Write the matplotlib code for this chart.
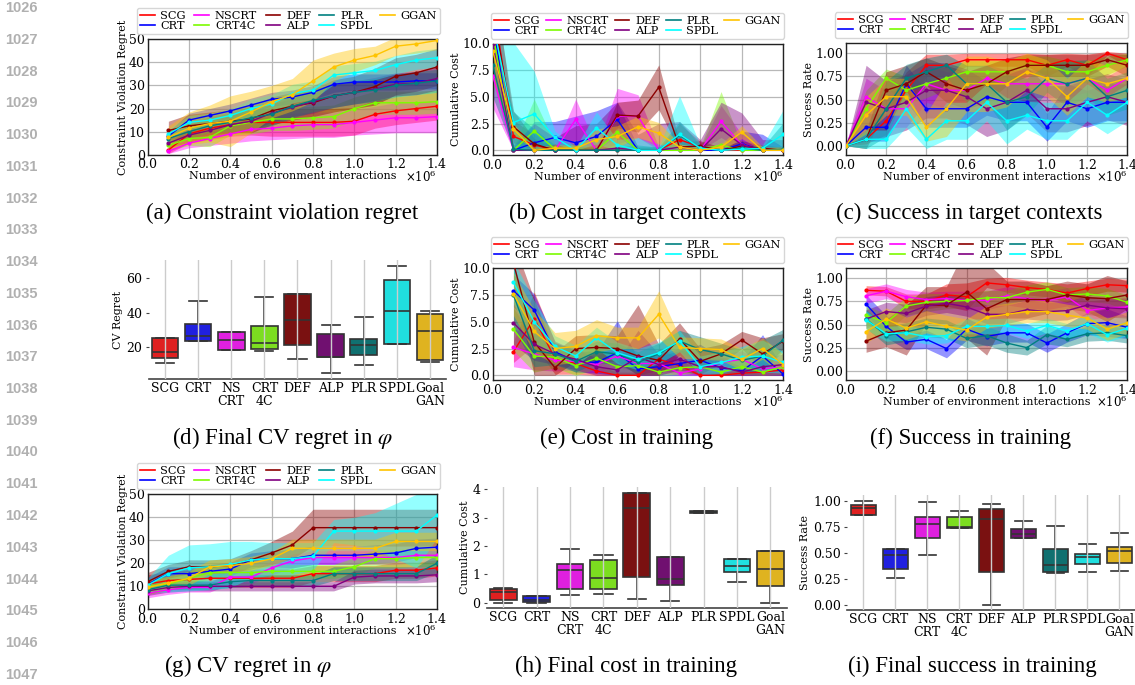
import colorsys
import matplotlib
matplotlib.use('Agg')
import matplotlib.pyplot as plt
import matplotlib.colors as mcolors
from matplotlib.lines import Line2D
import numpy as np

W, H = 1135, 685

methods = ['SCG', 'CRT', 'NSCRT', 'CRT4C', 'DEF', 'ALP', 'PLR', 'SPDL', 'GGAN']
box_labels = ['SCG', 'CRT', 'NS\nCRT', 'CRT\n4C', 'DEF', 'ALP', 'PLR', 'SPDL', 'Goal\nGAN']
colors = ['red', 'blue', 'magenta', 'lawngreen', 'darkred', 'purple', 'teal', 'cyan', '#ffc400']

steps14 = [100000, 200000, 300000, 400000, 500000, 600000, 700000,
           800000, 900000, 1000000, 1100000, 1200000, 1300000, 1400000]
steps15 = [0] + steps14

# (a) constraint violation regret, target contexts
a_mean = {
    'SCG':   [2, 9, 11.5, 13, 14, 14, 14, 14, 14, 14.5, 17.5, 19, 20, 21],
    'CRT':   [8, 15, 17, 19, 21.5, 24, 25, 27, 30.5, 31.5, 31.5, 31.5, 32, 32],
    'NSCRT': [1.5, 5, 7, 9, 11, 11.5, 12.5, 13, 13, 14, 15, 16, 16, 16.5],
    'CRT4C': [4, 7, 7.5, 12.5, 14, 15.5, 15.5, 16, 16.5, 20, 22.5, 22.5, 22.5, 23],
    'DEF':   [10.5, 12.5, 13.5, 14.5, 15.5, 19, 21, 22.5, 25.5, 27, 29.5, 34, 35.5, 38],
    'ALP':   [5, 8.5, 10.5, 13, 14.5, 18, 20.5, 23, 25.5, 27, 28.5, 30.5, 31, 33],
    'PLR':   [7, 10, 12.5, 14, 16, 17.5, 21, 23.5, 25.5, 27, 28, 30, 31, 32],
    'SPDL':  [9, 14, 15, 17, 20, 22, 26.5, 28, 34.5, 35.5, 36.5, 39, 41, 42],
    'GGAN':  [7.5, 11.5, 13.5, 14.5, 18.5, 23, 26, 32, 38, 41, 43, 47, 48, 49.5],
}
a_sd = {
    'SCG':   [1.5, 4, 5, 5, 5.5, 6, 6, 6, 6, 6, 6, 6, 6, 6],
    'CRT':   [2, 3, 3, 3, 3, 3, 3, 3, 3.5, 3.5, 3.5, 3.5, 3.5, 3.5],
    'NSCRT': [1, 2, 3, 4, 5, 5, 5.5, 5.5, 5.5, 5.5, 6, 6.5, 6.5, 7],
    'CRT4C': [2, 3, 4, 4, 5, 5, 5, 5, 5, 5, 5, 5, 5, 5],
    'DEF':   [4, 5, 5, 5, 6, 6, 6, 6, 7, 7, 8, 8, 8, 8],
    'ALP':   [2, 3, 3, 4, 4, 4, 4, 5, 5, 5, 5, 5, 5, 5],
    'PLR':   [2, 3, 3, 4, 5, 5, 5, 5, 5, 5, 5, 5, 5, 5],
    'SPDL':  [2, 3, 3, 3, 4, 4, 4, 4, 4, 4, 4, 4, 4, 4],
    'GGAN':  [5, 7, 8, 11, 9, 7, 7, 9, 6, 5, 4, 4, 4, 4],
}

# (b) cumulative cost, target contexts
b_mean = {
    'SCG':   [14, 1.3, 0.5, 0, 0, 0, 0, 0, 0, 1.0, 0.3, 0, 0, 0, 0],
    'CRT':   [12, 0, 0.7, 1.2, 0.7, 1.3, 2.9, 0, 0, 0, 0, 0, 0.6, 0, 0],
    'NSCRT': [7, 0, 0, 0, 2.9, 0, 3.2, 3.2, 0, 0, 0, 2.7, 0.5, 0, 0],
    'CRT4C': [11, 0, 1.8, 0.1, 0.1, 0, 1.7, 0, 0, 0, 0, 0.5, 0, 0, 0],
    'DEF':   [13, 2.2, 0.6, 0, 0, 0, 3.3, 3.2, 5.9, 0.3, 0.4, 0, 0.4, 0.2, 0],
    'ALP':   [10, 0, 0, 0, 0, 0, 0.2, 0, 0, 0.3, 0, 2.0, 0.5, 0, 0],
    'PLR':   [8, 0.1, 0, 0, 0, 0, 0, 0, 0, 1.4, 0.2, 0, 0.2, 0, 0.1],
    'SPDL':  [12, 2.6, 3.4, 1.2, 0, 2.1, 0.5, 0, 0, 1.5, 0.2, 0, 0.1, 0.2, 1.5],
    'GGAN':  [9.3, 2.0, 0, 0.2, 0.2, 1.0, 1.3, 2.2, 1.6, 0.3, 0, 0.3, 1.7, 0, 0],
}
b_sd = {
    'SCG':   [3, 1.5, 1, 0.2, 0.1, 0.1, 0.1, 0.1, 0.1, 1.5, 0.5, 0.1, 0.1, 0.1, 0.1],
    'CRT':   [3, 0.3, 2, 1.5, 2.5, 2.4, 1.6, 0.3, 0.3, 0.3, 0.3, 0.3, 1.2, 1.5, 0.3],
    'NSCRT': [3, 0.3, 0.3, 0.3, 1.9, 0.3, 2.6, 2, 0.3, 0.3, 0.3, 1.5, 1, 0.3, 0.3],
    'CRT4C': [3, 0.3, 3, 0.5, 0.5, 0.3, 1.5, 0.3, 0.3, 0.3, 0.3, 5.0, 0.5, 0.3, 0.3],
    'DEF':   [3, 1.5, 0.5, 0.3, 0.3, 0.3, 1.2, 1.5, 2.1, 0.5, 0.5, 0.3, 0.5, 0.3, 0.3],
    'ALP':   [3, 0.5, 2.5, 1.2, 2.3, 2.5, 4.3, 1.5, 2.5, 2.4, 1.0, 2.5, 3, 1, 1],
    'PLR':   [3, 3.5, 2, 0.5, 0.3, 0.3, 0.3, 0.5, 0.3, 1.3, 0.3, 0.3, 0.3, 0.3, 2.5],
    'SPDL':  [3, 7.5, 4, 0.6, 0.3, 1.5, 0.5, 1.2, 0.3, 3.6, 0.3, 0.3, 0.3, 0.3, 2.3],
    'GGAN':  [3, 0.5, 0.3, 0.3, 0.3, 1, 1, 1, 1, 0.3, 0.3, 0.3, 0.6, 0.3, 0.3],
}

# (c) success rate, target contexts
c_mean = {
    'SCG':   [0, 0.07, 0.27, 0.6, 0.87, 0.87, 0.93, 0.93, 0.93, 0.93, 0.87, 0.93, 0.87, 1.0, 0.93],
    'CRT':   [0, 0.2, 0.2, 0.67, 0.4, 0.4, 0.4, 0.53, 0.47, 0.47, 0.2, 0.47, 0.4, 0.47, 0.47],
    'NSCRT': [0, 0.53, 0.4, 0.4, 0.67, 0.6, 0.6, 0.73, 0.67, 0.67, 0.67, 0.67, 0.73, 0.6, 0.73],
    'CRT4C': [0, 0.4, 0.73, 0.6, 0.67, 0.73, 0.8, 0.8, 0.8, 0.87, 0.87, 0.8, 0.8, 0.87, 0.93],
    'DEF':   [0, 0.07, 0.6, 0.67, 0.8, 0.67, 0.6, 0.67, 0.8, 0.87, 0.87, 0.87, 0.87, 0.93, 0.87],
    'ALP':   [0, 0.47, 0.4, 0.47, 0.6, 0.6, 0.53, 0.4, 0.47, 0.6, 0.4, 0.4, 0.47, 0.53, 0.47],
    'PLR':   [0, 0.07, 0.4, 0.73, 0.8, 0.87, 0.67, 0.67, 0.47, 0.53, 0.73, 0.67, 0.73, 0.53, 0.6],
    'SPDL':  [0, 0.07, 0.07, 0.4, 0.07, 0.27, 0.27, 0.47, 0.27, 0.33, 0.27, 0.27, 0.47, 0.33, 0.47],
    'GGAN':  [0, 0.33, 0.53, 0.53, 0.2, 0.4, 0.67, 0.67, 0.67, 0.8, 0.73, 0.53, 0.73, 0.67, 0.73],
}
c_sd = {
    'SCG':   [0, 0.05, 0.15, 0.2, 0.12, 0.12, 0.07, 0.07, 0.07, 0.07, 0.12, 0.07, 0.12, 0.02, 0.07],
    'CRT':   [0, 0.15, 0.15, 0.2, 0.2, 0.2, 0.2, 0.2, 0.2, 0.2, 0.15, 0.2, 0.2, 0.2, 0.2],
    'NSCRT': [0, 0.2, 0.2, 0.2, 0.2, 0.2, 0.2, 0.15, 0.15, 0.15, 0.15, 0.15, 0.15, 0.15, 0.15],
    'CRT4C': [0, 0.2, 0.1, 0.15, 0.15, 0.12, 0.12, 0.12, 0.12, 0.1, 0.1, 0.12, 0.12, 0.1, 0.07],
    'DEF':   [0, 0.1, 0.2, 0.2, 0.15, 0.2, 0.2, 0.2, 0.15, 0.12, 0.12, 0.12, 0.12, 0.07, 0.12],
    'ALP':   [0, 0.4, 0.3, 0.3, 0.3, 0.3, 0.3, 0.3, 0.3, 0.25, 0.25, 0.25, 0.25, 0.25, 0.25],
    'PLR':   [0, 0.1, 0.3, 0.15, 0.15, 0.12, 0.2, 0.2, 0.3, 0.2, 0.15, 0.25, 0.2, 0.2, 0.2],
    'SPDL':  [0, 0.1, 0.1, 0.2, 0.1, 0.2, 0.2, 0.2, 0.25, 0.15, 0.2, 0.2, 0.2, 0.2, 0.2],
    'GGAN':  [0, 0.2, 0.2, 0.2, 0.15, 0.3, 0.3, 0.3, 0.25, 0.2, 0.2, 0.2, 0.2, 0.2, 0.2],
}

# (e) cumulative cost, training
e_mean = {
    'SCG':   [2.2, 5.3, 1.6, 1.1, 0.4, 0.0, 0.0, 1.5, 0.9, 0.0, 0.0, 0.2, 0.3, 0.5],
    'CRT':   [7.9, 6.1, 2.2, 1.3, 1.2, 2.1, 0.6, 0.8, 1.1, 1.4, 0.7, 0.4, 1.8, 0.1],
    'NSCRT': [2.6, 2.0, 1.4, 1.3, 1.0, 1.8, 1.1, 1.1, 0.2, 0.6, 1.2, 1.5, 0.6, 0.8],
    'CRT4C': [4.3, 1.8, 1.7, 0.9, 1.6, 0.8, 0.9, 0.3, 0.7, 0.8, 0.3, 0.8, 0.3, 0.8],
    'DEF':   [10.5, 3.1, 0.7, 2.5, 2.6, 2.5, 1.8, 1.4, 3.4, 1.3, 2.0, 3.3, 2.0, 3.2],
    'ALP':   [4.9, 2.9, 2.0, 1.5, 0.8, 0.5, 1.7, 1.0, 1.5, 0.8, 0.8, 0.3, 0.8, 1.0],
    'PLR':   [7.5, 2.3, 2.0, 1.3, 2.2, 2.0, 1.2, 2.0, 3.2, 2.4, 2.0, 1.4, 1.8, 3.3],
    'SPDL':  [8.7, 5.0, 2.7, 1.8, 3.5, 2.1, 1.5, 2.1, 3.2, 0.8, 1.2, 1.7, 1.8, 1.2],
    'GGAN':  [7.6, 4.1, 2.5, 2.7, 3.7, 3.5, 3.5, 5.7, 2.6, 2.5, 2.4, 1.5, 2.5, 1.0],
}
e_sd = {
    'SCG':   [1, 2.5, 1.5, 1, 0.6, 0.3, 0.3, 1, 0.7, 0.3, 0.3, 0.3, 0.4, 0.5],
    'CRT':   [1.5, 1.5, 1, 1, 1, 3, 1, 1, 1.2, 1.5, 1, 1, 2, 0.5],
    'NSCRT': [1.8, 1.5, 1, 0.8, 0.8, 1, 0.8, 0.8, 0.5, 0.6, 0.8, 0.8, 0.6, 0.6],
    'CRT4C': [2, 1.5, 1, 1, 1, 0.8, 0.8, 0.5, 0.6, 0.6, 0.4, 0.7, 0.4, 0.7],
    'DEF':   [2, 4, 1.5, 1.2, 1.2, 1.2, 4.8, 1.5, 1.5, 1.2, 0.9, 0.8, 1.5, 0.7],
    'ALP':   [2, 1.5, 1, 1, 0.8, 0.8, 2.5, 1, 1, 0.8, 0.8, 0.5, 0.8, 1],
    'PLR':   [3, 1.5, 1, 1, 1, 1, 1, 1, 1, 1.2, 1, 1, 1.5, 1],
    'SPDL':  [2, 2, 1, 1, 1, 1, 1, 1, 1, 1, 1, 1, 1.5, 1],
    'GGAN':  [2, 2, 1.5, 1.5, 1.5, 1, 1, 2.2, 1, 1, 1, 1, 1, 1],
}

# (f) success rate, training
f_mean = {
    'SCG':   [0.87, 0.86, 0.75, 0.75, 0.82, 0.80, 0.95, 0.93, 0.90, 0.88, 0.84, 0.89, 0.93, 0.92],
    'CRT':   [0.72, 0.48, 0.31, 0.34, 0.24, 0.45, 0.37, 0.41, 0.41, 0.30, 0.41, 0.51, 0.52, 0.47],
    'NSCRT': [0.81, 0.86, 0.80, 0.77, 0.78, 0.76, 0.76, 0.81, 0.78, 0.76, 0.80, 0.65, 0.68, 0.69],
    'CRT4C': [0.60, 0.52, 0.70, 0.74, 0.75, 0.76, 0.79, 0.79, 0.85, 0.88, 0.82, 0.83, 0.81, 0.74],
    'DEF':   [0.32, 0.41, 0.44, 0.71, 0.71, 0.85, 0.67, 0.77, 0.77, 0.77, 0.82, 0.79, 0.78, 0.82],
    'ALP':   [0.56, 0.64, 0.62, 0.70, 0.73, 0.69, 0.61, 0.61, 0.66, 0.64, 0.65, 0.71, 0.68, 0.67],
    'PLR':   [0.56, 0.38, 0.42, 0.47, 0.45, 0.35, 0.38, 0.30, 0.25, 0.39, 0.34, 0.40, 0.41, 0.38],
    'SPDL':  [0.55, 0.40, 0.41, 0.37, 0.38, 0.48, 0.48, 0.49, 0.43, 0.49, 0.43, 0.51, 0.39, 0.46],
    'GGAN':  [0.42, 0.56, 0.46, 0.53, 0.48, 0.44, 0.58, 0.61, 0.64, 0.64, 0.60, 0.57, 0.45, 0.52],
}
f_sd = {
    'SCG':   [0.05, 0.05, 0.08, 0.08, 0.12, 0.15, 0.05, 0.08, 0.08, 0.08, 0.1, 0.08, 0.07, 0.07],
    'CRT':   [0.1, 0.12, 0.08, 0.1, 0.1, 0.12, 0.1, 0.1, 0.1, 0.1, 0.1, 0.12, 0.15, 0.12],
    'NSCRT': [0.08, 0.08, 0.08, 0.08, 0.08, 0.1, 0.1, 0.1, 0.1, 0.1, 0.1, 0.1, 0.1, 0.1],
    'CRT4C': [0.1, 0.1, 0.1, 0.1, 0.08, 0.08, 0.08, 0.08, 0.08, 0.08, 0.08, 0.08, 0.08, 0.08],
    'DEF':   [0.12, 0.15, 0.27, 0.2, 0.2, 0.5, 0.5, 0.2, 0.2, 0.15, 0.15, 0.15, 0.25, 0.15],
    'ALP':   [0.1, 0.1, 0.1, 0.1, 0.1, 0.1, 0.1, 0.1, 0.1, 0.1, 0.1, 0.1, 0.1, 0.1],
    'PLR':   [0.1, 0.1, 0.1, 0.1, 0.1, 0.1, 0.1, 0.1, 0.08, 0.1, 0.08, 0.08, 0.08, 0.08],
    'SPDL':  [0.1, 0.08, 0.08, 0.08, 0.08, 0.08, 0.08, 0.08, 0.08, 0.08, 0.08, 0.1, 0.08, 0.08],
    'GGAN':  [0.12, 0.12, 0.12, 0.12, 0.12, 0.12, 0.12, 0.12, 0.12, 0.12, 0.12, 0.12, 0.12, 0.12],
}

# (g) CV regret in phi
g_mean = {
    'SCG':   [11, 12.5, 13, 13.5, 13.5, 13.5, 13.5, 13.5, 15.5, 15.5, 15.5, 15.5, 17, 17, 18],
    'CRT':   [11, 15.5, 15.5, 16.5, 17.5, 21.5, 22, 22, 23.5, 23.5, 23.5, 24, 24.5, 26.5, 27],
    'NSCRT': [7, 8.5, 9.5, 9.5, 14, 14, 18, 21, 22.5, 22.5, 22.5, 22.5, 22.5, 23.5, 23.5],
    'CRT4C': [10, 11, 13.5, 16, 16, 16, 16.5, 16.5, 16.5, 16.5, 18.5, 22, 22, 22.5, 22.5],
    'DEF':   [12, 16.5, 18.5, 18.5, 19, 21.5, 24.5, 28, 35.5, 35.5, 35.5, 35.5, 35.5, 35.5, 35.5],
    'ALP':   [8, 9.5, 10, 10, 10, 10, 10, 10, 10, 10, 14, 14.5, 14.5, 14.5, 15],
    'PLR':   [8.5, 10.5, 10.5, 10.5, 12, 12.5, 12.5, 12.5, 12.5, 15.5, 15.5, 15.5, 15.5, 15.5, 20],
    'SPDL':  [10.5, 15.5, 18, 18.5, 19.5, 21.5, 22, 22, 23, 34, 34, 34, 34, 34, 41],
    'GGAN':  [9.5, 11.5, 13.5, 18.5, 19, 20, 22, 26.5, 26.5, 26.5, 26.5, 26.5, 29.5, 29.5, 29.5],
}
g_sd = {
    'SCG':   [4, 4, 4, 4, 4, 4, 4, 4, 3.5, 3.5, 3.5, 3.5, 3.5, 3.5, 3.5],
    'CRT':   [3, 3, 3, 3, 3, 3, 3.5, 4, 4, 4, 4, 4, 4, 4, 4],
    'NSCRT': [2, 2, 2, 2, 3, 3, 3, 3, 3, 3, 3, 3, 3, 3, 3],
    'CRT4C': [3, 3, 3, 3, 3, 3, 3, 3, 3, 3, 4, 4, 4, 4, 4],
    'DEF':   [4, 3, 3, 3, 3, 4, 5, 6, 8, 8, 8, 8, 8, 8, 8],
    'ALP':   [2, 2, 2, 2, 2, 2, 2, 2, 2, 2, 3, 3, 3, 3, 3],
    'PLR':   [2, 2, 2, 2, 2.5, 2.5, 2.5, 2.5, 2.5, 3, 3, 3, 3, 3, 4],
    'SPDL':  [3, 8, 10, 10, 10, 8, 7, 7, 6, 5, 6, 8, 12, 16, 10],
    'GGAN':  [3, 3, 3, 3, 3, 3, 3, 4, 4, 4, 4, 4, 4, 4, 4],
}

# box plots: whisker low, q1, median, q3, whisker high
d_lo  = [11, 23.5, 18, 17.5, 13, 5, 9.5, 21.5, 11.5]
d_q1  = [13.8, 23.5, 18, 18.6, 21, 14.2, 15.1, 22, 12.5]
d_med = [16.9, 26.6, 23.9, 22.5, 35.5, 14.2, 21.2, 41.2, 29.5]
d_q3  = [25, 33.2, 28.5, 32, 50.9, 27.4, 24.9, 58.8, 39]
d_hi  = [25.5, 47, 28.5, 48.9, 50.9, 32.6, 37.3, 67.4, 41]

h_lo  = [0.0, 0.0, 0.26, 0.29, 0.14, 0.06, 3.15, 0.72, 0.0]
h_q1  = [0.09, 0.02, 0.47, 0.47, 0.89, 0.62, 3.15, 1.08, 0.58]
h_med = [0.39, 0.1, 1.14, 0.87, 3.34, 0.84, 3.2, 1.29, 1.19]
h_q3  = [0.49, 0.24, 1.38, 1.49, 3.88, 1.6, 3.25, 1.55, 1.82]
h_hi  = [0.5, 0.25, 1.89, 1.69, 3.88, 1.6, 3.25, 1.55, 1.82]

i_lo  = [0.862, 0.256, 0.48, 0.744, 0.0, 0.641, 0.304, 0.314, 0.33]
i_q1  = [0.862, 0.346, 0.647, 0.744, 0.314, 0.641, 0.314, 0.394, 0.40]
i_med = [0.93, 0.478, 0.776, 0.753, 0.827, 0.679, 0.381, 0.465, 0.522]
i_q3  = [0.958, 0.538, 0.849, 0.843, 0.926, 0.728, 0.542, 0.494, 0.56]
i_hi  = [1.0, 0.54, 0.994, 0.907, 0.974, 0.81, 0.763, 0.59, 0.692]

line_numbers = list(range(1026, 1048))

plt.rcParams['font.family'] = 'DejaVu Serif'
plt.rcParams['mathtext.fontset'] = 'dejavuserif'

fig = plt.figure(figsize=(W / 100, H / 100), dpi=100)


def px(l, t, r, b):
    return [l / W, 1 - b / H, (r - l) / W, (b - t) / H]


def desat(c, s=0.75):
    r, g, b = mcolors.to_rgb(c)
    h, l, sat = colorsys.rgb_to_hls(r, g, b)
    return colorsys.hls_to_rgb(h, l, sat * s)


def line_panel(rect, leg, xs, means, sds, ylim, yticks, ylabel, clip0=False):
    ax = fig.add_axes(px(*rect))
    for m, c in zip(methods, colors):
        mu = np.array(means[m], dtype=float)
        sd = np.array(sds[m], dtype=float)
        lo = mu - sd
        if clip0:
            lo = np.clip(lo, 0, None)
        ax.fill_between(xs, lo, mu + sd, color=c, alpha=0.42, lw=0, zorder=2)
    for m, c in zip(methods, colors):
        ax.plot(xs, means[m], color=c, lw=1.0, marker='o', ms=2, zorder=3)
    ax.set_xlim(0, 1400000)
    ax.set_ylim(*ylim)
    ax.set_xticks([0, 200000, 400000, 600000, 800000, 1000000, 1200000, 1400000])
    ax.set_yticks(yticks)
    ax.ticklabel_format(axis='x', style='sci', scilimits=(6, 6), useMathText=True)
    ax.xaxis.get_offset_text().set_visible(False)
    ax.annotate(r'$\times10^{6}$', xy=(1, 0), xycoords='axes fraction',
                xytext=(0, -16), textcoords='offset points',
                ha='right', va='center', fontsize=8.5)
    ax.grid(True, color='#b8b8b8', lw=0.9, zorder=0)
    ax.set_axisbelow(True)
    ax.tick_params(length=0, labelsize=9, pad=2)
    for s in ax.spines.values():
        s.set_color('#222222')
        s.set_linewidth(1.0)
    ax.set_xlabel('Number of environment interactions', fontsize=8, labelpad=0)
    ax.set_ylabel(ylabel, fontsize=8, labelpad=1)
    handles = [Line2D([], [], color=c, lw=1.2) for c in colors]
    l, t, r, b = leg
    ax.legend(handles, methods, loc='center', mode='expand', ncol=5,
              bbox_to_anchor=(l / W, 1 - b / H, (r - l) / W, (b - t) / H),
              bbox_transform=fig.transFigure, fontsize=8.2, handlelength=1.3,
              handletextpad=0.5, labelspacing=0.0, borderpad=0.25,
              borderaxespad=0, frameon=True, edgecolor='#cccccc')
    return ax


def box_panel(rect, lo, q1, med, q3, hi, ylim, yticks, ylabel):
    ax = fig.add_axes(px(*rect))
    stats = [dict(whislo=lo[k], q1=q1[k], med=med[k], q3=q3[k], whishi=hi[k], fliers=[])
             for k in range(len(methods))]
    bp = ax.bxp(stats, positions=range(len(methods)), widths=0.8, capwidths=0.55,
                patch_artist=True,
                boxprops=dict(edgecolor='#333333', lw=1.2),
                whiskerprops=dict(color='#333333', lw=1.2),
                capprops=dict(color='#333333', lw=1.2),
                medianprops=dict(color='#333333', lw=1.2))
    for patch, c in zip(bp['boxes'], colors):
        patch.set_facecolor(desat(c))
    ax.set_xlim(-0.5, len(methods) - 0.5)
    ax.set_ylim(*ylim)
    ax.set_yticks(yticks)
    ax.set_xticks(range(len(methods)))
    ax.set_xticklabels(box_labels, linespacing=1.0)
    ax.set_axisbelow(False)
    ax.grid(True, axis='x', color='#cccccc', lw=1.0)
    ax.grid(False, axis='y')
    for s in ['left', 'top', 'right']:
        ax.spines[s].set_visible(False)
    ax.spines['bottom'].set_color('#444444')
    ax.spines['bottom'].set_linewidth(1.2)
    ax.tick_params(axis='x', length=0, labelsize=9, pad=2)
    ax.tick_params(axis='y', length=2.5, width=0.8, color='#444444', labelsize=9, pad=2)
    ax.set_ylabel(ylabel, fontsize=8, labelpad=2)
    return ax


line_panel((147.7, 39.3, 437, 154.7), (137, 5, 440, 37), steps14, a_mean, a_sd,
           (0, 50), [0, 10, 20, 30, 40, 50], 'Constraint Violation Regret')
line_panel((492.7, 43.5, 783.3, 155), (491, 10.5, 784, 41), steps15, b_mean, b_sd,
           (-0.44, 10), [0, 2.5, 5, 7.5, 10], 'Cumulative Cost', clip0=True)
line_panel((846, 43.3, 1127.3, 155), (835, 10.5, 1128, 40), steps15, c_mean, c_sd,
           (-0.1, 1.108), [0, 0.25, 0.5, 0.75, 1.0], 'Success Rate')
box_panel((148.5, 260, 446.5, 379), d_lo, d_q1, d_med, d_q3, d_hi,
          (1.4, 70.7), [20, 40, 60], 'CV Regret')
line_panel((492.7, 268.3, 783.3, 380), (491, 235.5, 784, 265), steps14, e_mean, e_sd,
           (-0.44, 10), [0, 2.5, 5, 7.5, 10], 'Cumulative Cost', clip0=True)
line_panel((846, 268.3, 1127.3, 380), (835, 235.5, 1128, 265), steps14, f_mean, f_sd,
           (-0.1, 1.108), [0, 0.25, 0.5, 0.75, 1.0], 'Success Rate')
line_panel((147.7, 494.3, 437, 609.3), (137, 460, 440, 492), steps15, g_mean, g_sd,
           (0, 50), [0, 10, 20, 30, 40, 50], 'Constraint Violation Regret')
box_panel((486.6, 486.7, 787, 608.3), h_lo, h_q1, h_med, h_q3, h_hi,
          (-0.2, 4.09), [0, 1, 2, 3, 4], 'Cumulative Cost')
box_panel((847.3, 495, 1135.3, 610.3), i_lo, i_q1, i_med, i_q3, i_hi,
          (-0.051, 1.058), [0, 0.25, 0.5, 0.75, 1.0], 'Success Rate')

captions = [
    ('(a) Constraint violation regret', 282, 213),
    ('(b) Cost in target contexts', 628, 213),
    ('(c) Success in target contexts', 969, 213),
    (r'(d) Final CV regret in $\varphi$', 282, 438),
    ('(e) Cost in training', 627, 438),
    ('(f) Success in training', 970, 438),
    (r'(g) CV regret in $\varphi$', 248, 666),
    ('(h) Final cost in training', 626, 666),
    ('(i) Final success in training', 972, 666),
]
for txt, cx, cy in captions:
    fig.text(cx / W, 1 - cy / H, txt, ha='center', va='center', fontsize=16.5,
             family='Liberation Serif', math_fontfamily='stix')

for k, n in enumerate(line_numbers):
    fig.text(5 / W, 1 - (8 + k * 31.75) / H, str(n), ha='left', va='center',
             fontsize=10.5, fontweight='bold', color='#b0b0b0', family='Liberation Sans')

fig.savefig('out.png', dpi=100)
